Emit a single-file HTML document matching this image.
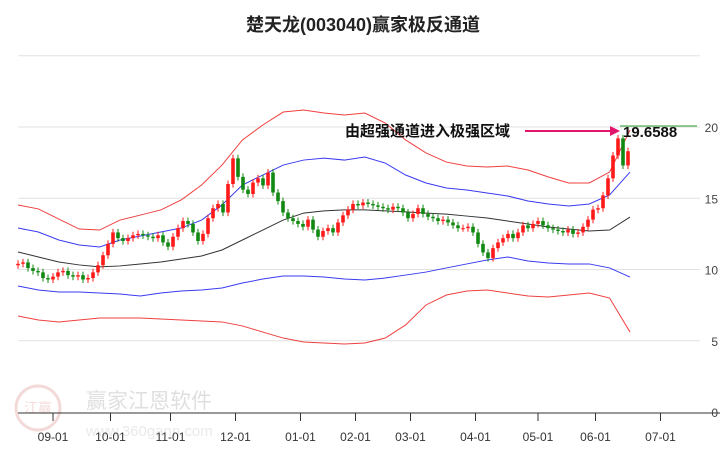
<!DOCTYPE html>
<html><head><meta charset="utf-8"><style>
html,body{margin:0;padding:0;background:#fff;}
svg{display:block;font-family:"Liberation Sans","Noto Sans CJK SC",sans-serif;}
</style></head><body>
<svg id="chart" width="726" height="450" viewBox="0 0 726 450">
<g id="wm" opacity="0.18">
<circle cx="38" cy="408" r="22" fill="none" stroke="#c0392b" stroke-width="3"/>
<text x="38" y="413" font-size="14" fill="#c0392b" text-anchor="middle">江赢</text>
<text x="86" y="408" font-size="21" fill="#555">赢家江恩软件</text>
<text x="86" y="436" font-size="15" fill="#888">www.360gann.com</text>
</g>
<text x="363" y="31" text-anchor="middle" font-size="18" font-weight="bold" fill="#222">楚天龙(003040)赢家极反通道</text>
<g id="grid"></g><g id="bands"></g><g id="candles"></g><g id="axis"></g>
<line x1="620" y1="126" x2="697" y2="126" stroke="#2a9d2a" stroke-width="1"/>
<text x="345" y="136" font-size="15" font-weight="bold" fill="#111">由超强通道进入极强区域</text>
<line x1="525" y1="131" x2="612" y2="131" stroke="#e0156b" stroke-width="2"/>
<polygon points="620,131 610,126 610,136" fill="#e0156b"/>
<text x="623" y="137" font-size="15" font-weight="bold" fill="#111">19.6588</text>
</svg>
<script>
const yTicks=[0,5,10,15,20,25];
const monthLabels=["09-01","10-01","11-01","12-01","01-01","02-01","03-01","04-01","05-01","06-01","07-01"];
const monthPos=[7,18.5,30.5,43.5,56.5,67.5,78.5,91.5,104,115.5,128.5];
const closes=[10.4,10.5,10.1,9.9,9.8,9.4,9.3,9.5,9.8,9.9,9.6,9.5,9.6,9.3,9.4,9.8,10.3,11.0,11.8,12.6,12.2,12.0,12.2,12.4,12.5,12.4,12.3,12.2,12.4,11.9,11.6,12.3,12.9,13.4,13.2,12.6,12.0,12.5,13.6,14.3,14.6,14.0,16.0,17.8,16.5,15.6,15.3,16.1,16.4,15.9,16.8,15.4,14.8,14.0,13.6,13.4,13.2,13.0,13.5,12.8,12.3,12.7,12.9,12.6,13.3,13.8,14.2,14.6,14.5,14.7,14.6,14.5,14.4,14.3,14.2,14.4,14.3,14.0,13.6,13.9,14.3,13.9,13.7,13.6,13.4,13.5,13.3,13.1,12.9,12.9,13.0,12.6,11.8,11.2,10.8,11.5,11.9,12.2,12.5,12.2,12.6,13.1,12.9,13.2,13.4,13.1,12.9,12.8,12.7,12.6,12.8,12.5,12.6,13.0,13.5,14.2,14.3,15.2,16.4,18.0,19.2,17.3,18.3];
const upperRed=[14.53,14.25,13.54,12.84,12.77,13.47,13.82,14.18,14.88,15.93,17.33,19.09,20.14,21.05,21.19,20.98,20.84,20.98,20.28,19.09,18.18,17.54,17.26,17.19,17.26,16.98,16.49,16.07,16.07,16.84,19.79];
const upperBlue=[12.91,12.63,12.07,11.72,11.58,12.07,12.35,12.63,12.91,13.47,14.53,15.93,16.63,17.33,17.68,17.82,17.68,17.89,17.47,16.63,16.07,15.72,15.58,15.37,15.16,14.81,14.60,14.46,14.60,15.23,16.84];
const midLine=[11.23,10.88,10.53,10.32,10.18,10.25,10.39,10.53,10.74,10.95,11.37,12.07,12.77,13.47,13.96,14.11,14.18,14.18,14.11,14.04,13.96,13.89,13.75,13.61,13.40,13.19,12.98,12.84,12.70,12.77,13.68];
const lowerBlue=[8.84,8.56,8.42,8.42,8.35,8.28,8.14,8.35,8.49,8.56,8.70,9.05,9.33,9.54,9.54,9.47,9.33,9.26,9.40,9.61,9.82,10.11,10.39,10.67,10.88,10.60,10.46,10.39,10.39,10.11,9.47];
const lowerRed=[6.74,6.46,6.32,6.46,6.60,6.60,6.60,6.53,6.46,6.39,6.32,6.04,5.61,5.19,4.91,4.84,4.77,4.84,5.19,6.11,7.51,8.21,8.49,8.56,8.35,8.14,8.07,8.21,8.35,8.00,5.61];

const NS='http://www.w3.org/2000/svg';
const X0=18,X1=628;
function y(v){return 412-v*14.25;}
function xc(i){return X0+i*(X1-X0)/(closes.length-1);}
function xb(i){return X0+i*(630-X0)/(upperRed.length-1);}
function mk(t,a,p){const e=document.createElementNS(NS,t);for(const k in a)e.setAttribute(k,a[k]);p.appendChild(e);return e;}
const grid=document.getElementById('grid');
yTicks.forEach(v=>{
  if(v>0){const l=mk('line',{x1:18,x2:700,y1:y(v),y2:y(v),stroke:'#e2e2e2','stroke-width':1},grid);
  
  }
  if(v<25){const t=mk('text',{x:718,y:y(v)+5,'text-anchor':'end','font-size':12,fill:'#444'},grid);t.textContent=v;
  
  }
});
const bands=document.getElementById('bands');
[[upperRed,'#f04040','upper-red-band'],[upperBlue,'#3a3af0','upper-blue-band'],[midLine,'#333','middle-line'],[lowerBlue,'#3a3af0','lower-blue-band'],[lowerRed,'#f04040','lower-red-band']].forEach(([arr,c,n])=>{
  const p=mk('polyline',{points:arr.map((v,i)=>xb(i)+','+y(v)).join(' '),fill:'none',stroke:c,'stroke-width':1},bands);
  
  
});
const cg=document.getElementById('candles');
closes.forEach((c,i)=>{
  const o=i?closes[i-1]:c-0.1;
  const col=c>=o?'#ff1a1a':'#118811';
  const x=xc(i);
  const g=mk('g',{},cg);
  
  
  const hi=Math.max(o,c)+0.25,lo=Math.min(o,c)-0.25;
  mk('line',{x1:x,x2:x,y1:y(hi),y2:y(lo),stroke:col,'stroke-width':1},g);
  const top=y(Math.max(o,c)),h=Math.max(1,Math.abs(y(o)-y(c)));
  mk('rect',{x:x-1.8,y:top,width:3.6,height:h,fill:col},g);
});
const ax=document.getElementById('axis');
const al=mk('line',{x1:18,x2:720,y1:413,y2:413,stroke:'#333','stroke-width':1},ax);


monthLabels.forEach((m,k)=>{
  const x=xc(monthPos[k]);
  mk('line',{x1:x,x2:x,y1:413,y2:421,stroke:'#333','stroke-width':1},ax);
  const t=mk('text',{x:x,y:441,'text-anchor':'middle','font-size':12,fill:'#333'},ax);t.textContent=m;
  
  
});
</script>
</body></html>
